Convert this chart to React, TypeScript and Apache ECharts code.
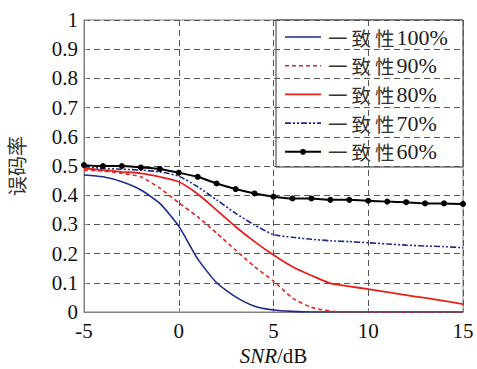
import React, { useEffect, useRef } from "react";
import * as echarts from "echarts";

const snr = [-5, -4, -3, -2, -1, 0, 1, 2, 3, 4, 5, 6, 7, 8, 9, 10, 11, 12, 13, 14, 15];
const seriesNames = ["一致性100%", "一致性90%", "一致性80%", "一致性70%", "一致性60%"];
const ber100 = [0.469, 0.463, 0.446, 0.418, 0.372, 0.294, 0.182, 0.1, 0.052, 0.02, 0.007, 0.002, 0, 0, 0, 0, 0, 0, 0, 0, 0];
const ber90 = [0.486, 0.483, 0.475, 0.463, 0.424, 0.374, 0.326, 0.27, 0.212, 0.155, 0.106, 0.048, 0.016, 0.003, 0, 0, 0, 0, 0, 0, 0];
const ber80 = [0.492, 0.486, 0.48, 0.475, 0.463, 0.446, 0.404, 0.349, 0.292, 0.241, 0.195, 0.155, 0.125, 0.098, 0.088, 0.078, 0.068, 0.058, 0.048, 0.038, 0.027];
const ber70 = [0.498, 0.492, 0.489, 0.486, 0.48, 0.465, 0.429, 0.384, 0.338, 0.298, 0.265, 0.256, 0.249, 0.244, 0.241, 0.237, 0.233, 0.229, 0.226, 0.224, 0.22];
const ber60 = [0.503, 0.5, 0.5, 0.495, 0.49, 0.477, 0.463, 0.44, 0.421, 0.406, 0.395, 0.389, 0.389, 0.384, 0.384, 0.381, 0.378, 0.376, 0.372, 0.372, 0.37];

const pair = (ys: number[]) => snr.map((x, i) => [x, ys[i]]);

export default function App() {
  const ref = useRef<HTMLDivElement>(null);
  useEffect(() => {
    if (!ref.current) return;
    const chart = echarts.init(ref.current, undefined, { renderer: "svg" });
    const serif = "'Liberation Serif', 'Noto Sans CJK SC', serif";
    const cjk = "'Noto Sans CJK SC', sans-serif";
    const blue = "#1c2a8c";
    const red = "#e3221c";
    const styles = [
      { color: blue, width: 1.6, dash: null as any, marker: false },
      { color: red, width: 1.6, dash: [4, 3], marker: false },
      { color: red, width: 1.8, dash: null, marker: false },
      { color: blue, width: 1.6, dash: [6, 2, 2, 2, 2, 2], marker: false },
      { color: "#000", width: 2, dash: null, marker: true },
    ];
    const datasets = [ber100, ber90, ber80, ber70, ber60];
    const axisCommon = {
      axisLine: { show: true, onZero: false, lineStyle: { color: "#808080", width: 1 } },
      axisTick: { show: true, inside: true, length: 4, lineStyle: { color: "#808080" } },
      axisLabel: { color: "#111", fontSize: 21, fontFamily: serif },
      splitLine: { show: true, lineStyle: { color: "#555", type: [6, 4] as any, width: 1 } },
    };

    // legend drawn as graphic
    const lgLeft = 276, lgTop = 20, lgRight = 463, lgBottom = 167;
    const rowY0 = 37, rowStep = 28.7;
    const legendChildren: any[] = [
      { type: "rect", shape: { x: lgLeft, y: lgTop, width: lgRight - lgLeft, height: lgBottom - lgTop }, style: { fill: "#fff", stroke: "#333", lineWidth: 1 } },
    ];
    seriesNames.forEach((name, i) => {
      const s = styles[i];
      const y = rowY0 + i * rowStep;
      legendChildren.push({
        type: "line",
        shape: { x1: 285, y1: y, x2: 321, y2: y },
        style: { stroke: s.color, lineWidth: s.width, lineDash: s.dash || undefined },
      });
      if (s.marker) {
        legendChildren.push({ type: "circle", shape: { cx: 303, cy: y, r: 3 }, style: { fill: s.color } });
      }
      const cjkPart = name.slice(0, 3).split("").map((ch) => "{c|" + ch + "}").join("");
      legendChildren.push({
        type: "text",
        x: 326,
        y,
        style: {
          text: cjkPart + "{d|" + name.slice(3) + "}",
          verticalAlign: "middle",
          align: "left",
          rich: {
            c: { fontSize: 19.5, lineHeight: 24, fontFamily: cjk, fill: "#333", padding: [0, 2, 0, 2] },
            d: { fontSize: 22, lineHeight: 24, fontFamily: serif, fill: "#222" },
          },
        },
      });
    });

    chart.setOption({
      animation: false,
      backgroundColor: "#fff",
      grid: { left: 84, right: 14, top: 20, bottom: 57, show: true, borderColor: "#808080", borderWidth: 1, outerBoundsMode: "none" },
      xAxis: {
        type: "value",
        min: -5,
        max: 15,
        interval: 5,
        ...axisCommon,
        axisLabel: { ...axisCommon.axisLabel, margin: 8 },
        name: "{i|SNR}{n|/dB}",
        nameLocation: "middle",
        nameGap: 33,
        nameTextStyle: {
          rich: {
            i: { fontSize: 21, fontFamily: serif, fontStyle: "italic", color: "#111" },
            n: { fontSize: 21, fontFamily: serif, color: "#111" },
          },
        },
      },
      yAxis: {
        type: "value",
        min: 0,
        max: 1,
        interval: 0.1,
        ...axisCommon,
        axisLabel: { ...axisCommon.axisLabel, margin: 6 },
        name: "误码率",
        nameLocation: "middle",
        nameRotate: 90,
        nameGap: 58,
        nameTextStyle: { fontSize: 20, fontFamily: cjk, color: "#333" },
      },
      series: datasets.map((d, i) => {
        const s = styles[i];
        return {
          name: seriesNames[i],
          type: "line",
          data: pair(d),
          symbol: s.marker ? "circle" : "none",
          symbolSize: 6,
          smooth: 0.2,
          lineStyle: { color: s.color, width: s.width, type: s.dash || "solid" },
          itemStyle: { color: s.color },
          z: 2 + i,
        };
      }),
      graphic: [{ type: "group", z: 100, children: legendChildren }],
    });
    return () => chart.dispose();
  }, []);
  return <div ref={ref} style={{ width: 477, height: 369, position: "absolute", left: 0, top: 0 }} />;
}
